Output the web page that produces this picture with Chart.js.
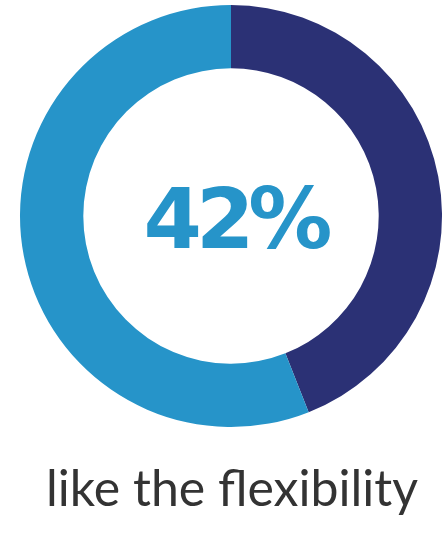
<!DOCTYPE html>
<html>
<head>
<meta charset="utf-8">
<script src="https://cdn.jsdelivr.net/npm/chart.js@4"></script>
<style>
  html, body { margin: 0; padding: 0; background: #fff; }
  #wrap { width: 448px; height: 547px; }
</style>
</head>
<body>
<div id="wrap"><canvas id="myChart"></canvas></div>
<script>
var labels = ['like the flexibility', 'other'];
var values = [44, 56];
var colors = ['#2b3175', '#2694c9'];
var centerLabel = '42%';
var caption = 'like the flexibility';

var textPlugin = {
    id: 'ringText',
    afterDraw: function (chart) {
        var ctx = chart.ctx;
        ctx.save();
        // big number in the middle
        ctx.fillStyle = '#2694c9';
        ctx.font = 'bold 84px "DejaVu Sans"';
        ctx.textAlign = 'center';
        ctx.textBaseline = 'alphabetic';
        ctx.letterSpacing = '-6px';
        ctx.fillText(centerLabel, 235, 248);
        // caption under the ring
        ctx.letterSpacing = '0px';
        ctx.fillStyle = '#333333';
        ctx.font = '400 50px Lato';
        ctx.fillText(caption, 232, 506);
        ctx.restore();
    }
};

var ctx = document.getElementById('myChart');
var chart = new Chart(ctx, {
    type: 'doughnut',
    data: {
        labels: labels,
        datasets: [
            {
                data: values,
                backgroundColor: colors,
                borderWidth: 0,
                hoverOffset: 0
            }
        ]
    },
    options: {
        responsive: true,
        maintainAspectRatio: false,
        animation: false,
        cutout: '70%',
        layout: { padding: { left: 20, right: 6, top: 5, bottom: 120 } },
        plugins: {
            legend: { display: false },
            tooltip: { enabled: false }
        }
    },
    plugins: [textPlugin]
});
</script>
</body>
</html>
